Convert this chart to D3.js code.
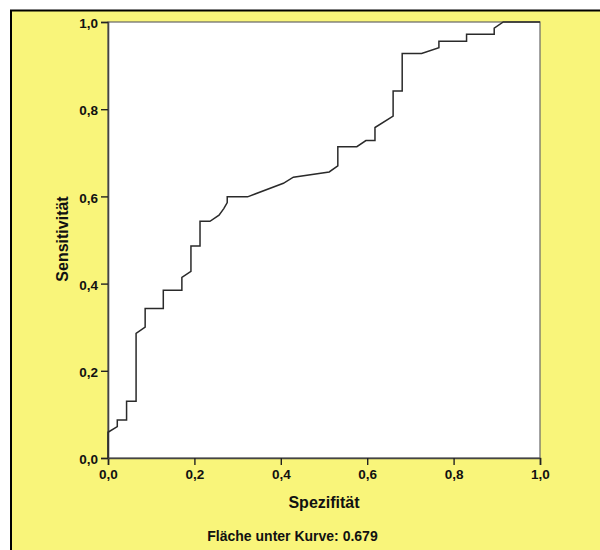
<!DOCTYPE html>
<html>
<head>
<meta charset="utf-8">
<script src="https://cdn.jsdelivr.net/npm/d3@7"></script>
<style>
  body { margin: 0; background: #ffffff; }
  svg text { font-family: Arial, "Liberation Sans", sans-serif; font-weight: bold; fill: #111; }
</style>
</head>
<body>
<svg id="chart" width="600" height="550"></svg>
<script>
// ROC curve
const spezifitaet = [0, 0, 0.0215, 0.0215, 0.043, 0.043, 0.065, 0.065, 0.086, 0.086,
  0.128, 0.128, 0.171, 0.171, 0.192, 0.192, 0.213, 0.213, 0.236, 0.257, 0.268, 0.276,
  0.276, 0.323, 0.406, 0.429, 0.512, 0.532, 0.532, 0.576, 0.597, 0.618, 0.618, 0.660,
  0.660, 0.681, 0.681, 0.726, 0.766, 0.766, 0.830, 0.830, 0.894, 0.894, 0.915, 1.0];
const sensitivitaet = [0, 0.059, 0.072, 0.087, 0.087, 0.130, 0.130, 0.286, 0.300, 0.343,
  0.343, 0.385, 0.385, 0.414, 0.428, 0.486, 0.486, 0.543, 0.543, 0.557, 0.572, 0.586,
  0.599, 0.599, 0.630, 0.644, 0.656, 0.670, 0.714, 0.714, 0.728, 0.728, 0.758, 0.784,
  0.842, 0.842, 0.928, 0.928, 0.941, 0.956, 0.956, 0.972, 0.972, 0.986, 1.0, 1.0];
const tickValues = [0, 0.2, 0.4, 0.6, 0.8, 1.0];
const xTitle = "Spezifität";
const yTitle = "Sensitivität";
const footer = "Fläche unter Kurve: 0.679";

const svg = d3.select("#chart");
const yellow = "#f9f57a";

// yellow panel with black frame
svg.append("rect").attr("x", 11).attr("y", 10.5).attr("width", 600).attr("height", 560)
  .attr("fill", yellow).attr("stroke", "#000").attr("stroke-width", 2);

const plotL = 108, plotR = 540, plotT = 22, plotB = 458;
const x = d3.scaleLinear().domain([0, 1]).range([plotL, plotR]);
const y = d3.scaleLinear().domain([0, 1]).range([plotB, plotT]);

svg.append("rect").attr("x", plotL).attr("y", plotT)
  .attr("width", plotR - plotL).attr("height", plotB - plotT)
  .attr("fill", "#fff").attr("stroke", "#666").attr("stroke-width", 1.2);

const fmt = d => d3.format(".1f")(d).replace(".", ",");

const xAxis = svg.append("g").attr("transform", `translate(0,${plotB})`)
  .call(d3.axisBottom(x).tickValues(tickValues).tickFormat(fmt).tickSize(7).tickPadding(4));
const yAxis = svg.append("g").attr("transform", `translate(${plotL},0)`)
  .call(d3.axisLeft(y).tickValues(tickValues).tickFormat(fmt).tickSize(7).tickPadding(3));

[xAxis, yAxis].forEach(g => {
  g.select(".domain").attr("stroke", "#444").attr("stroke-width", 1.6);
  g.selectAll(".tick line").attr("stroke", "#222").attr("stroke-width", 1.4);
  g.selectAll(".tick text").attr("font-size", "13.5px").attr("fill", "#111")
    .attr("font-family", "Arial, 'Liberation Sans', sans-serif").attr("font-weight", "bold");
});
yAxis.selectAll(".tick text").attr("dy", "0.42em");

// curve
const line = d3.line().x(d => x(d[0])).y(d => y(d[1]));
svg.append("path")
  .datum(d3.zip(spezifitaet, sensitivitaet))
  .attr("d", line)
  .attr("fill", "none")
  .attr("stroke", "#2a2a2a")
  .attr("stroke-width", 1.5);

// titles
svg.append("text").attr("x", (plotL + plotR) / 2).attr("y", 507.5)
  .attr("text-anchor", "middle").attr("font-size", "16px").text(xTitle);
svg.append("text").attr("transform", `translate(67.5,${(plotT + plotB) / 2 - 1}) rotate(-90)`)
  .attr("text-anchor", "middle").attr("font-size", "16px").text(yTitle);
svg.append("text").attr("x", 292.5).attr("y", 540.5)
  .attr("text-anchor", "middle").attr("font-size", "14px").text(footer);
</script>
</body>
</html>
